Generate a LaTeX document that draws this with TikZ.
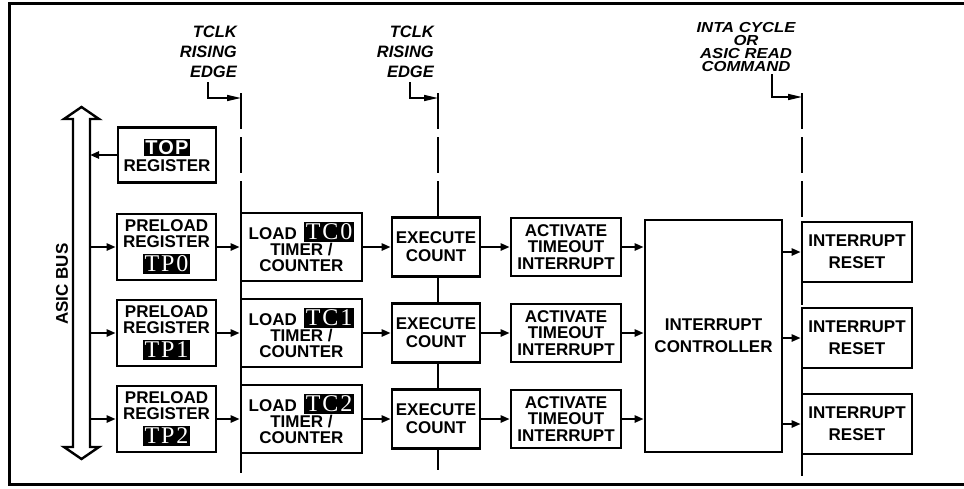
\documentclass[tikz,border=0pt]{standalone}
\usepackage{fontspec}
\setmainfont{Liberation Sans}
\newfontfamily\badgefont[LetterSpace=8]{Liberation Serif}
\newfontfamily\badgesans[LetterSpace=6]{Liberation Sans}
\newfontfamily\widesans[FakeStretch=1.15]{Liberation Sans}
\usetikzlibrary{arrows.meta, positioning}

% ô chữ trắng trên nền đen
\newcommand{\tcbadge}[1]{{\setlength{\fboxsep}{2pt}\colorbox{black}{\textcolor{white}{\badgefont\mdseries\fontsize{24}{24}\selectfont #1}}}}
\newcommand{\topbadge}[1]{{\setlength{\fboxsep}{1.5pt}\colorbox{black}{\textcolor{white}{\badgesans\bfseries\fontsize{20}{20}\selectfont #1}}}}

\begin{document}
\begin{tikzpicture}[x=1pt, y=-1pt, >={Triangle[length=9pt,width=7pt]},
    blk/.style={draw, line width=2.6pt, fill=white, align=center, inner sep=0pt,
        font=\bfseries\fontsize{17}{16}\selectfont},
    link/.style={->, line width=2.4pt},
    clkline/.style={line width=1.6pt, dash pattern=on 36pt off 8pt},
    lab/.style={inner sep=0pt, font=\bfseries\itshape\fontsize{16.5}{20}\selectfont},
    cue/.style={-{Triangle[length=14pt,width=6pt]}, line width=1.6pt}]
    \useasboundingbox (0,0) rectangle (964,488);

    % Khung
    \draw[line width=3pt] (964,3) -- (9,3) -- (9,484) -- (964,484);

    % Các đường thời điểm (nét đứt)
    \coordinate (c1t) at (241,93);  \coordinate (c1b) at (241,473);
    \coordinate (c2t) at (438,93);  \coordinate (c2b) at (438,470);
    \coordinate (c3t) at (802,93);  \coordinate (c3b) at (802,476);
    \draw[clkline] (c1t) -- (c1b);
    \draw[clkline] (c2t) -- (c2b);
    \draw[clkline] (c3t) -- (c3b);

    \node[lab, align=right, anchor=north east] (tclk1) at (237,26) {TCLK\\RISING\\EDGE};
    \node[lab, align=right, anchor=north east] (tclk2) at (434,26) {TCLK\\RISING\\EDGE};
    \node[lab, align=center, anchor=north, font=\widesans\bfseries\itshape\fontsize{14.5}{13}\selectfont]
        (inta) at (746,22) {INTA CYCLE\\OR\\ASIC READ\\COMMAND};
    \coordinate (k1) at (208,82);  \coordinate (a1) at (241,98);
    \coordinate (k2) at (410,82);  \coordinate (a2) at (438,98);
    \coordinate (k3) at (772,74);  \coordinate (a3) at (802,97);
    \draw[cue] (k1) |- (a1);
    \draw[cue] (k2) |- (a2);
    \draw[cue] (k3) |- (a3);

    % Bus ASIC (mũi tên rỗng hai đầu)
    \draw[line width=2.4pt, fill=white] (73,119) -- (64,119) -- (81.5,107) -- (99,119) -- (90,119)
        -- (90,447) -- (99,447) -- (81.5,459) -- (64,447) -- (73,447) -- cycle;
    \coordinate (bus) at (90,283);
    \node[rotate=90, font=\bfseries\fontsize{17}{17}\selectfont] (busname) at (62,284) {ASIC BUS};

    \node[blk, minimum width=98pt, minimum height=55pt] (topreg) at (167,155) {\topbadge{TOP}\\[1pt]REGISTER};
    \draw[link] (topreg.west) -- (bus |- topreg.west);

    \node[blk, minimum width=137pt, minimum height=232pt] (ctrl) at (713.5,336) {INTERRUPT\\[6pt]CONTROLLER};

    % Ba hàng bộ đếm
    \foreach \i/\y/\r in {0/247/252, 1/333/338, 2/419/424} {
        \node[blk, minimum width=99pt, minimum height=66pt] (tp\i) at (166.5,\y) {PRELOAD\\REGISTER\\[5pt]\tcbadge{TP\i}};
        \node[blk, minimum width=121pt, minimum height=68pt] (ld\i) at (301.5,\y) {LOAD\hspace{7pt}\tcbadge{TC\i}\\TIMER /\\COUNTER};
        \node[blk, minimum width=88pt, minimum height=59pt] (ex\i) at (436,\y) {EXECUTE\\[2pt]COUNT};
        \node[blk, minimum width=110pt, minimum height=58pt, font=\bfseries\fontsize{17}{16.5}\selectfont]
            (ac\i) at (566,\y) {ACTIVATE\\TIMEOUT\\INTERRUPT};
        \node[blk, minimum width=110pt, minimum height=60pt] (rs\i) at (857,\r) {INTERRUPT\\[6pt]RESET};
        \draw[link] (bus |- tp\i.west) -- (tp\i.west);
        \draw[link] (tp\i) -- (ld\i);
        \draw[link] (ld\i) -- (ex\i);
        \draw[link] (ex\i) -- (ac\i);
        \draw[link] (ac\i) -- (ac\i -| ctrl.west);
        \draw[link] (ctrl.east |- rs\i.west) -- (rs\i.west);
    }
\end{tikzpicture}
\end{document}
